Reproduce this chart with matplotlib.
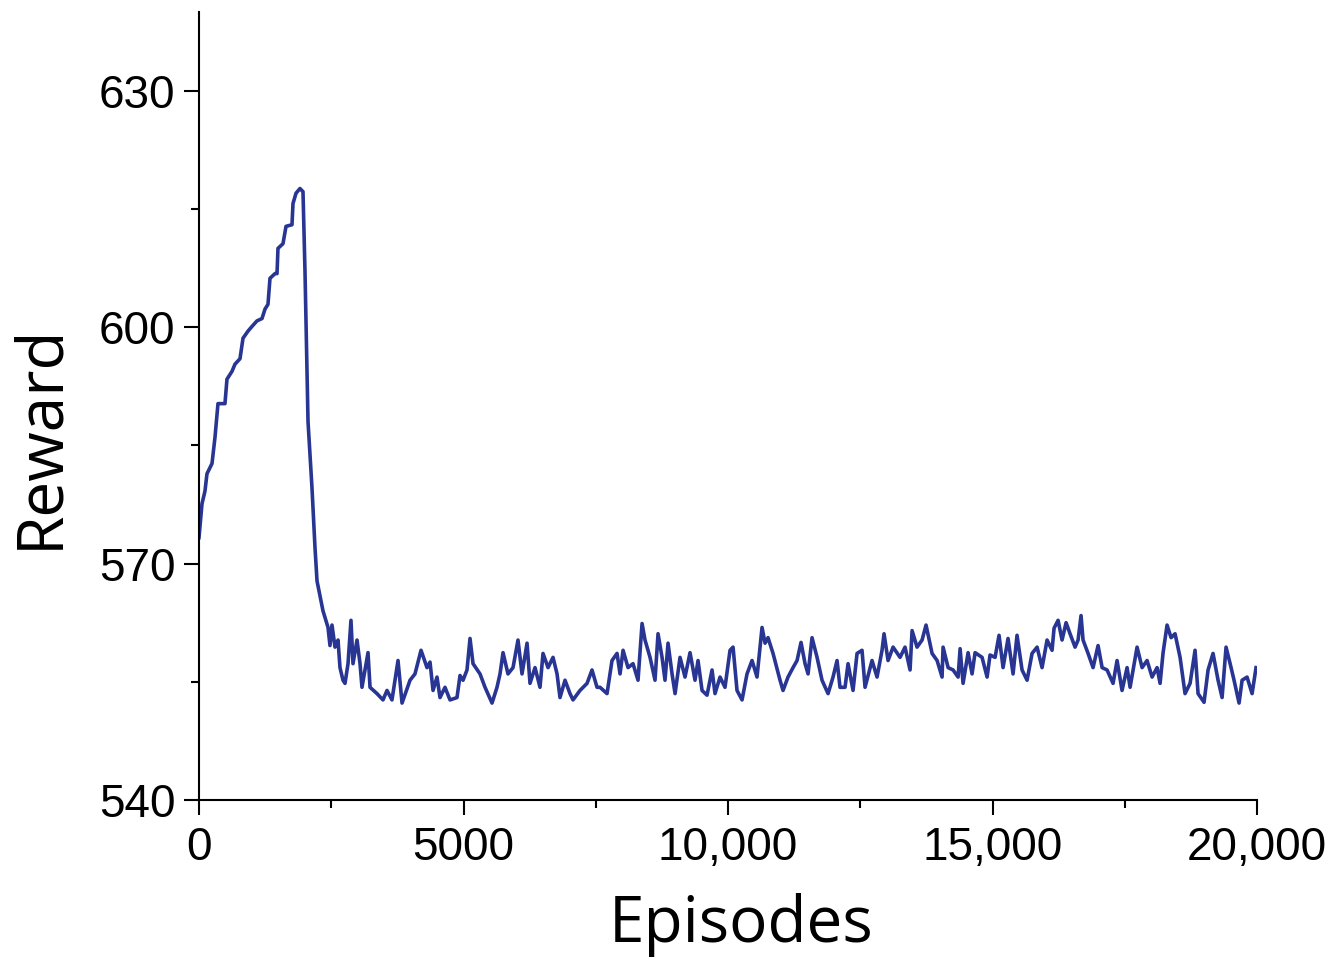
import matplotlib
matplotlib.use("Agg")
import matplotlib.pyplot as plt
from matplotlib.ticker import FuncFormatter, MultipleLocator

# values (episodes, reward)
episodes = [
    0, 57, 113, 151, 246, 302, 359, 491, 529, 624, 680, 775, 832, 926, 1002, 1096,
    1191, 1248, 1304, 1342, 1437, 1475, 1493, 1588, 1645, 1758, 1777, 1834, 1909, 1966,
    2004, 2042, 2061, 2136, 2193, 2231, 2344, 2439, 2476, 2514, 2571, 2628, 2665, 2722,
    2760, 2817, 2873, 2911, 2987, 3044, 3081, 3195, 3233, 3365, 3478, 3554, 3648, 3762,
    3838, 3989, 4083, 4197, 4310, 4367, 4424, 4499, 4556, 4650, 4745, 4877, 4934, 4991,
    5066, 5123, 5180, 5312, 5407, 5539, 5633, 5690, 5747, 5841, 5936, 6030, 6106, 6201,
    6257, 6352, 6446, 6503, 6598, 6692, 6768, 6824, 6919, 7013, 7070, 7202, 7335, 7429,
    7524, 7581, 7713, 7807, 7902, 7959, 8016, 8110, 8204, 8299, 8375, 8431, 8526, 8620,
    8677, 8753, 8809, 8866, 8942, 8999, 9093, 9187, 9282, 9376, 9433, 9509, 9603, 9698,
    9754, 9849, 9943, 10038, 10095, 10170, 10265, 10359, 10454, 10548, 10643, 10700,
    10756, 10851, 10983, 11040, 11134, 11229, 11305, 11380, 11456, 11513, 11588, 11683,
    11777, 11891, 11985, 12061, 12117, 12212, 12269, 12363, 12439, 12533, 12590, 12722,
    12817, 12911, 12949, 13025, 13120, 13252, 13346, 13441, 13479, 13573, 13668, 13743,
    13857, 13952, 14046, 14065, 14160, 14254, 14349, 14387, 14443, 14538, 14613, 14670,
    14802, 14897, 14953, 15048, 15123, 15199, 15293, 15388, 15463, 15558, 15653, 15747,
    15842, 15936, 16031, 16125, 16163, 16239, 16314, 16390, 16465, 16560, 16617, 16673,
    16711, 16806, 16900, 16995, 17071, 17165, 17278, 17354, 17448, 17543, 17600, 17732,
    17827, 17921, 18016, 18110, 18167, 18224, 18299, 18375, 18450, 18545, 18639, 18734,
    18828, 18885, 18998, 19074, 19168, 19263, 19339, 19414, 19509, 19565, 19660, 19717,
    19811, 19906, 19981,
]
reward = [
    573.3, 577.6, 579.2, 581.4, 582.7, 586.0, 590.3, 590.3, 593.4, 594.4, 595.3, 596.0,
    598.6, 599.5, 600.1, 600.8, 601.1, 602.3, 602.9, 606.2, 606.8, 606.8, 610.0, 610.6,
    612.8, 613.0, 615.7, 617.0, 617.6, 617.2, 607.0, 594.4, 588.0, 579.6, 572.0, 567.8,
    564.0, 561.9, 559.6, 562.2, 559.4, 560.3, 556.8, 555.2, 554.8, 557.3, 562.8, 557.3,
    560.3, 557.3, 554.3, 558.7, 554.3, 553.5, 552.7, 553.9, 552.7, 557.7, 552.3, 555.2,
    556.0, 559.0, 556.8, 557.5, 553.9, 555.6, 553.0, 554.3, 552.7, 553.0, 555.8, 555.2,
    556.5, 560.5, 557.3, 556.0, 554.3, 552.3, 554.3, 556.0, 558.7, 556.0, 556.8, 560.3,
    556.0, 559.9, 554.8, 556.8, 554.3, 558.6, 556.8, 558.1, 556.0, 553.0, 555.2, 553.5,
    552.7, 553.9, 554.8, 556.5, 554.3, 554.3, 553.5, 557.7, 558.6, 556.0, 559.0, 556.8,
    557.3, 555.2, 562.4, 560.3, 558.1, 555.2, 561.1, 558.1, 555.2, 559.9, 556.0, 553.5,
    558.1, 555.6, 558.7, 555.2, 557.7, 553.9, 553.3, 556.5, 553.5, 555.6, 554.3, 559.0,
    559.4, 553.9, 552.7, 556.0, 557.7, 555.6, 561.9, 559.9, 560.6, 558.6, 555.2, 553.9,
    555.6, 556.8, 557.7, 560.0, 557.3, 556.0, 560.6, 558.1, 555.2, 553.5, 555.6, 557.7,
    554.3, 554.3, 557.3, 553.9, 558.6, 559.0, 554.3, 557.7, 555.6, 559.0, 561.1, 557.7,
    559.4, 558.1, 559.4, 556.5, 561.5, 559.4, 560.3, 562.2, 558.6, 557.7, 555.6, 559.4,
    556.8, 556.5, 555.6, 559.2, 554.8, 558.7, 556.0, 558.7, 558.1, 555.6, 558.4, 558.1,
    560.9, 556.8, 560.5, 556.0, 560.9, 556.5, 555.2, 558.6, 559.4, 556.8, 560.3, 559.0,
    561.8, 562.8, 560.3, 562.5, 561.1, 559.4, 560.3, 563.4, 560.3, 558.6, 556.8, 559.6,
    556.8, 556.5, 554.8, 557.7, 553.9, 556.8, 554.3, 559.4, 556.8, 557.7, 555.6, 556.8,
    554.8, 558.7, 562.2, 560.6, 561.1, 558.1, 553.5, 554.8, 559.0, 553.5, 552.4, 556.5,
    558.6, 555.2, 553.0, 559.4, 556.8, 555.2, 552.3, 555.2, 555.6, 553.5, 556.8,
]

line_color = '#283593'
tick_font = 'Liberation Sans'
label_font = 'Open Sans'

fig = plt.figure(figsize=(13.4, 9.67), dpi=100)
ax = fig.add_axes([0.1485, 0.1727, 0.7896, 0.8149])

ax.plot(episodes, reward, color=line_color, lw=2.6, solid_joinstyle='round')

ax.set_xlim(0, 20000)
ax.set_ylim(540, 640)
ax.xaxis.set_major_locator(MultipleLocator(5000))
ax.xaxis.set_minor_locator(MultipleLocator(2500))
ax.yaxis.set_major_locator(MultipleLocator(30))
ax.yaxis.set_minor_locator(MultipleLocator(15))
ax.xaxis.set_major_formatter(FuncFormatter(lambda v, p: f'{int(v)}' if v < 10000 else f'{int(v):,}'))

for side in ['top', 'right']:
    ax.spines[side].set_visible(False)
for side in ['left', 'bottom']:
    ax.spines[side].set_linewidth(1.5)

ax.tick_params(which='major', direction='out', length=11, width=1.5, labelsize=33, pad=6)
ax.tick_params(axis='x', which='major', pad=8)
ax.tick_params(which='minor', direction='out', length=6, width=1.5)
for lab in ax.get_xticklabels() + ax.get_yticklabels():
    lab.set_fontfamily(tick_font)

ax.set_xlabel('Episodes', fontsize=46, fontfamily=label_font, labelpad=16)
ax.set_ylabel('Reward', fontsize=46, fontfamily=label_font, labelpad=19)
ax.xaxis.label.set_x(0.512)
ax.yaxis.label.set_y(0.461)

fig.savefig('out.png', dpi=100)
